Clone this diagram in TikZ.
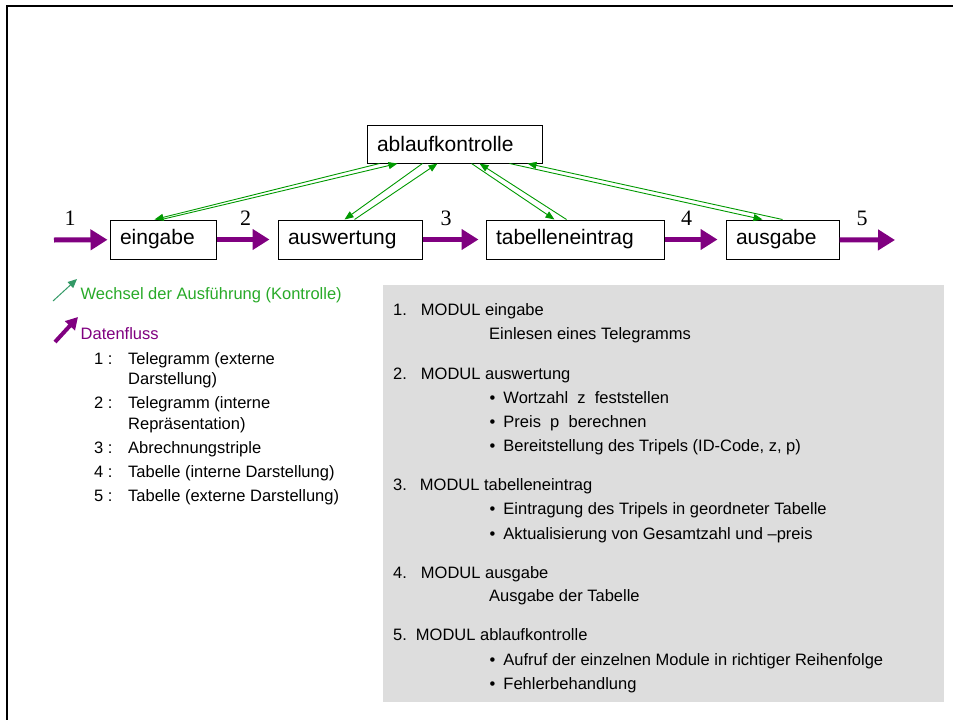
\documentclass[tikz,border=0pt]{standalone}
\usepackage{fontspec}
\setmainfont{Liberation Sans}
\newfontfamily\numfont{Liberation Serif}
\usetikzlibrary{arrows.meta}

\definecolor{datapurple}{RGB}{128,0,128}
\definecolor{ctrlgreen}{RGB}{0,153,0}
\definecolor{legendgreen}{RGB}{51,153,102}
\definecolor{textgreen}{RGB}{40,170,40}
\definecolor{panelgray}{RGB}{221,221,221}

\tikzset{
	modbox/.style={draw, line width=1pt, inner xsep=10pt, inner ysep=0pt, minimum height=39pt, text width=#1, align=left, font=\fontsize{21}{24}\selectfont},
	dataflow/.style={datapurple, line width=5pt, -{Triangle[length=17pt,width=20pt]}},
	ctrl/.style={ctrlgreen, line width=0.9pt, -{Triangle[length=9pt,width=7pt]}},
	numlabel/.style={inner sep=0pt, font=\numfont\fontsize{22}{24}\selectfont},
	txt/.style={anchor=west, inner sep=0pt, text height=0.72em, text depth=0.22em, font=\fontsize{16.5}{19}\selectfont}
}

\begin{document}
\begin{tikzpicture}[x=1pt, y=-1pt]
			%%%%% START %%%%%
			\useasboundingbox (0, 0) rectangle (953, 720);
			\draw[line width=2.3pt] (7, 720) -- (7, 6) -- (953, 6);
			
			\node[modbox=155pt, minimum height=38pt] (ablauf) at (454.5, 144) {ablaufkontrolle};
			\node[modbox=86pt] (eingabe) at (163, 239.5) {eingabe};
			\node[modbox=124pt] (auswertung) at (350, 239.5) {auswertung};
			\node[modbox=158pt] (tabelle) at (575, 239.5) {tabelleneintrag};
			\node[modbox=93pt] (ausgabe) at (782.5, 239.5) {ausgabe};
			
			\coordinate (datain) at (54, 240);
			\coordinate (dataout) at (895, 240);
			\draw[dataflow, shorten >=2pt] (datain) -- (eingabe);
			\draw[dataflow, shorten >=8pt] (eingabe) -- (auswertung);
			\draw[dataflow, shorten >=7pt] (auswertung) -- (tabelle);
			\draw[dataflow, shorten >=8pt] (tabelle) -- (ausgabe);
			\draw[dataflow] (ausgabe) -- (dataout);
			
			\node[numlabel] (n1) at (70, 218) {1};
			\node[numlabel] (n2) at (245.5, 218) {2};
			\node[numlabel] (n3) at (446, 218) {3};
			\node[numlabel] (n4) at (686.5, 218) {4};
			\node[numlabel] (n5) at (862, 218) {5};
			
			\draw[ctrl] ([xshift=13pt]ablauf.south west) -- ([xshift=45pt]eingabe.north west);
			\draw[ctrl] ([xshift=52pt]eingabe.north west) -- ([xshift=31pt]ablauf.south west);
			\draw[ctrl] ([xshift=56pt]ablauf.south west) -- ([xshift=67pt]auswertung.north west);
			\draw[ctrl] ([xshift=77pt]auswertung.north west) -- ([xshift=71pt]ablauf.south west);
			\draw[ctrl] ([xshift=105pt]ablauf.south west) -- ([xshift=69pt]tabelle.north west);
			\draw[ctrl] ([xshift=81pt]tabelle.north west) -- ([xshift=113pt]ablauf.south west);
			\draw[ctrl] ([xshift=143pt]ablauf.south west) -- ([xshift=37pt]ausgabe.north west);
			\draw[ctrl] ([xshift=57pt]ausgabe.north west) -- ([xshift=161pt]ablauf.south west);
			
			\draw[legendgreen, line width=1pt, -{Triangle[length=9pt,width=8pt]}] (53, 301) -- (77, 279);
			\node[txt, textgreen] (legctrl) at (80.5, 296.7) {Wechsel der Ausführung (Kontrolle)};
			\draw[datapurple, line width=4pt, -{Triangle[length=12pt,width=13pt]}] (55, 342) -- (78, 317);
			\node[txt, datapurple] (legdata) at (80.5, 336.7) {Datenfluss};
			
			\node[txt] (lnum1) at (94, 361.7) {1 :};
			\node[txt] (litem1) at (128, 361.7) {Telegramm (externe};
			\node[txt] (litem1b) at (128, 381.7) {Darstellung)};
			\node[txt] (lnum2) at (94, 406) {2 :};
			\node[txt] (litem2) at (128, 406) {Telegramm (interne};
			\node[txt] (litem2b) at (128, 426.7) {Repräsentation)};
			\node[txt] (lnum3) at (94, 451) {3 :};
			\node[txt] (litem3) at (128, 451) {Abrechnungstriple};
			\node[txt] (lnum4) at (94, 474.5) {4 :};
			\node[txt] (litem4) at (128, 474.5) {Tabelle (interne Darstellung)};
			\node[txt] (lnum5) at (94, 499) {5 :};
			\node[txt] (litem5) at (128, 499) {Tabelle (externe Darstellung)};
			
			\fill[panelgray] (383, 285) rectangle (944, 702);
			
			\node[txt] (mod1) at (393, 312.7) {1.\hspace{14pt}MODUL eingabe};
			\node[txt] (mod1a) at (489, 336.7) {Einlesen eines Telegramms};
			
			\node[txt] (mod2) at (393, 376.7) {2.\hspace{14pt}MODUL auswertung};
			\node[txt] (mod2a) at (489.5, 400.7) {•\hspace{8pt}Wortzahl\ \ z\ \ feststellen};
			\node[txt] (mod2b) at (489.5, 425) {•\hspace{8pt}Preis\ \ p\ \ berechnen};
			\node[txt] (mod2c) at (489.5, 449) {•\hspace{8pt}Bereitstellung des Tripels (ID-Code, z, p)};
			
			\node[txt] (mod3) at (393, 487.7) {3.\hspace{13pt}MODUL tabelleneintrag};
			\node[txt] (mod3a) at (489.5, 512.3) {•\hspace{8pt}Eintragung des Tripels in geordneter Tabelle};
			\node[txt] (mod3b) at (489.5, 536.7) {•\hspace{8pt}Aktualisierung von Gesamtzahl und –preis};
			
			\node[txt] (mod4) at (393, 575.7) {4.\hspace{14pt}MODUL ausgabe};
			\node[txt] (mod4a) at (489, 599.3) {Ausgabe der Tabelle};
			
			\node[txt] (mod5) at (393, 638.3) {5.\hspace{9pt}MODUL ablaufkontrolle};
			\node[txt] (mod5a) at (489.5, 663.3) {•\hspace{8pt}Aufruf der einzelnen Module in richtiger Reihenfolge};
			\node[txt] (mod5b) at (489.5, 687.3) {•\hspace{8pt}Fehlerbehandlung};
			%%%%% END %%%%%
\end{tikzpicture}
\end{document}
